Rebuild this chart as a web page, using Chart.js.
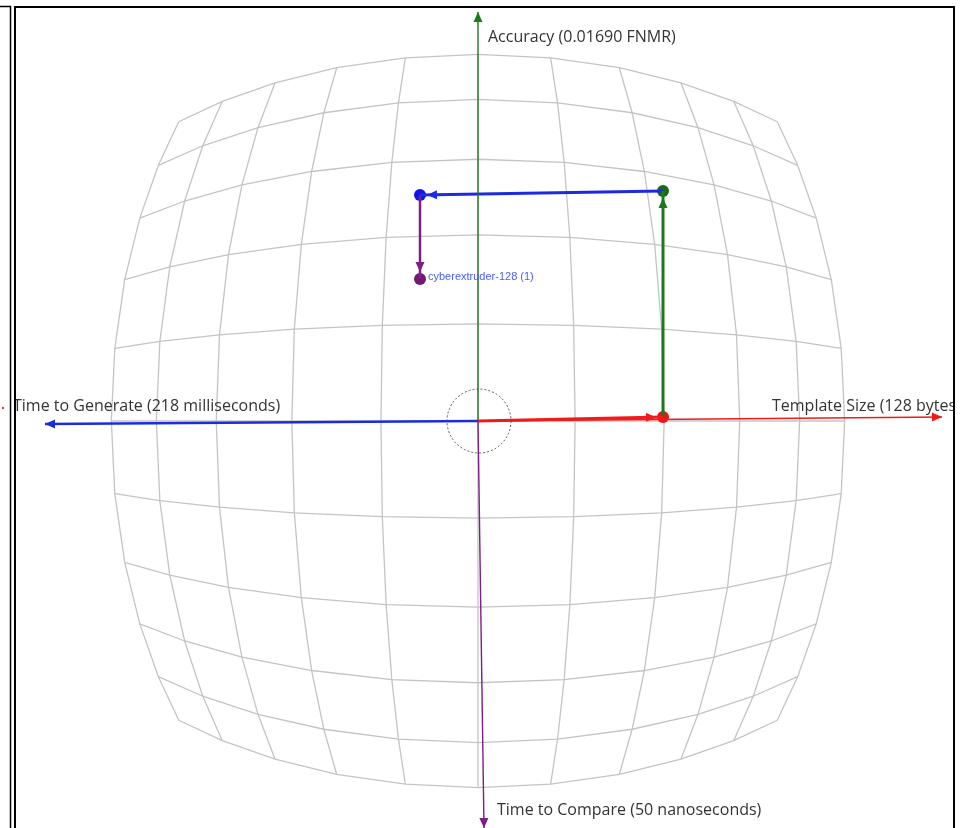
<!DOCTYPE html>
<html>
<head>
<meta charset="utf-8">
<script src="https://cdn.jsdelivr.net/npm/chart.js@4/dist/chart.umd.min.js"></script>
<style>
  html, body { margin: 0; padding: 0; background: #fff; }
  canvas { display: block; }
</style>
</head>
<body>
<canvas id="chart" width="965" height="828"></canvas>
<script>
// axis names, in order: right, up, left, down
const axisNames = [
  "Template Size (128 bytes)",
  "Accuracy (0.01690 FNMR)",
  "Time to Generate (218 milliseconds)",
  "Time to Compare (50 nanoseconds)"
];
// where each axis arrow ends (chart units)
const axisEndX = [4.64, 0, -4.33, 0.06];
const axisEndY = [0.04, 4.09, -0.03, -4.07];

// the walk of the one system, one step per axis
const seriesName = "cyberextruder-128 (1)";
const pathX = [0, 1.85, 1.85, -0.58, -0.58];
const pathY = [0, 0.04, 2.30, 2.26, 1.42];

// grid cells each side of centre
const gridSteps = [-5, -4, -3, -2, -1, 0, 1, 2, 3, 4, 5];

const colors = ["#f21a1a", "#1c7a1c", "#1d2be0", "#7d1f86"];
const pointColors = ["#f01313", "#176a17", "#1414e6", "#741874"];

// fisheye used for the background grid
function warp(u, v) {
  const r = Math.hypot(u, v);
  if (!r) return [0, 0];
  const s = 4.69 * Math.tanh(0.21 * r) / r;
  return [u * s, v * s];
}

function drawArrow(ctx, x0, y0, x1, y1, color, back) {
  const a = Math.atan2(y1 - y0, x1 - x0);
  const tx = x1 - Math.cos(a) * back;
  const ty = y1 - Math.sin(a) * back;
  ctx.save();
  ctx.fillStyle = color;
  ctx.translate(tx, ty);
  ctx.rotate(a);
  ctx.beginPath();
  ctx.moveTo(0, 0);
  ctx.lineTo(-10, -4.5);
  ctx.lineTo(-10, 4.5);
  ctx.closePath();
  ctx.fill();
  ctx.restore();
}

const fisheyePlugin = {
  id: "fisheye",
  beforeDatasetsDraw(chart) {
    const ctx = chart.ctx;
    const xs = chart.scales.x, ys = chart.scales.y;
    const px = (p) => [xs.getPixelForValue(p[0]), ys.getPixelForValue(p[1])];
    ctx.save();
    ctx.strokeStyle = "#c4c4c4";
    ctx.lineWidth = 1.3;
    // rows and columns
    gridSteps.forEach(function (k) {
      ["row", "col"].forEach(function (dir) {
        ctx.beginPath();
        gridSteps.forEach(function (t, i) {
          const p = px(dir === "row" ? warp(t, k) : warp(k, t));
          if (i === 0) ctx.moveTo(p[0], p[1]); else ctx.lineTo(p[0], p[1]);
        });
        ctx.stroke();
      });
    });
    ctx.restore();
  },
  afterDatasetsDraw(chart) {
    const ctx = chart.ctx;
    const xs = chart.scales.x, ys = chart.scales.y;
    const ox = xs.getPixelForValue(0), oy = ys.getPixelForValue(0);

    // arrow heads on every line dataset
    chart.data.datasets.forEach(function (ds, i) {
      if (!ds.arrow) return;
      const pts = chart.getDatasetMeta(i).data;
      const a = pts[pts.length - 2], b = pts[pts.length - 1];
      drawArrow(ctx, a.x, a.y, b.x, b.y, ds.borderColor, ds.arrowBack || 0);
    });

    // dotted ring at the origin
    ctx.save();
    ctx.strokeStyle = "#555";
    ctx.lineWidth = 1;
    ctx.setLineDash([2, 2]);
    ctx.beginPath();
    ctx.arc(ox + 1, oy, 32, 0, Math.PI * 2);
    ctx.stroke();
    ctx.restore();

    // axis names
    ctx.save();
    ctx.beginPath();
    ctx.rect(15, 7, 938, 821);
    ctx.clip();
    ctx.font = "16px 'Open Sans'";
    ctx.fillStyle = "#333";
    ctx.textBaseline = "middle";
    const ends = axisEndX.map((v, i) => [xs.getPixelForValue(v), ys.getPixelForValue(axisEndY[i])]);
    ctx.fillText(axisNames[0], ends[0][0] - 170, ends[0][1] - 11);
    ctx.fillText(axisNames[1], ends[1][0] + 10, ends[1][1] + 25);
    ctx.fillText(axisNames[2], ends[2][0] - 32, ends[2][1] - 18);
    ctx.fillText(axisNames[3], ends[3][0] + 13, ends[3][1] - 18);

    // series label beside the last point
    const last = pathX.length - 1;
    ctx.font = "11px 'Liberation Sans Narrow', 'Liberation Sans'";
    ctx.fillStyle = "#4a5cff";
    ctx.fillText(seriesName, xs.getPixelForValue(pathX[last]) + 8, ys.getPixelForValue(pathY[last]) - 2);
    ctx.restore();
  },
  afterDraw(chart) {
    const ctx = chart.ctx;
    ctx.save();
    ctx.strokeStyle = "#000";
    ctx.lineWidth = 2;
    ctx.beginPath();
    ctx.moveTo(15, 830);
    ctx.lineTo(15, 7);
    ctx.lineTo(954, 7);
    ctx.lineTo(954, 830);
    ctx.stroke();
    ctx.lineWidth = 1.5;
    ctx.beginPath();
    ctx.moveTo(0, 6.5);
    ctx.lineTo(10.5, 6.5);
    ctx.lineTo(10.5, 830);
    ctx.stroke();
    ctx.fillStyle = "#e33";
    ctx.fillRect(2, 407, 2, 2);
    ctx.restore();
  }
};

const datasets = [];

// the four axes
axisEndX.forEach(function (x, i) {
  datasets.push({
    data: [{ x: 0, y: 0 }, { x: x, y: axisEndY[i] }],
    showLine: true,
    borderColor: colors[i],
    borderWidth: i === 2 ? 2.5 : 1.4,
    pointRadius: 0,
    arrow: true,
    arrowBack: 0
  });
});

// the steps of the walk
for (let i = 0; i < pathX.length - 1; i++) {
  datasets.push({
    data: [{ x: pathX[i], y: pathY[i] }, { x: pathX[i + 1], y: pathY[i + 1] }],
    showLine: true,
    borderColor: colors[i],
    borderWidth: i === 3 ? 2.5 : 3,
    pointRadius: 0,
    arrow: true,
    arrowBack: 7
  });
}

// the points reached after each step
datasets.push({
  data: pathX.slice(1).map((x, i) => ({ x: x, y: pathY[i + 1] })),
  pointRadius: 6,
  pointBackgroundColor: pointColors,
  pointBorderColor: pointColors,
  pointBorderWidth: 0
});

new Chart(document.getElementById("chart"), {
  type: "scatter",
  data: { datasets: datasets },
  options: {
    responsive: false,
    animation: false,
    layout: { padding: 0, autoPadding: false },
    plugins: { legend: { display: false }, tooltip: { enabled: false } },
    scales: {
      x: { type: "linear", min: -4.78, max: 4.87, display: false },
      y: { type: "linear", min: -4.07, max: 4.21, display: false }
    }
  },
  plugins: [fisheyePlugin]
});
</script>
</body>
</html>
